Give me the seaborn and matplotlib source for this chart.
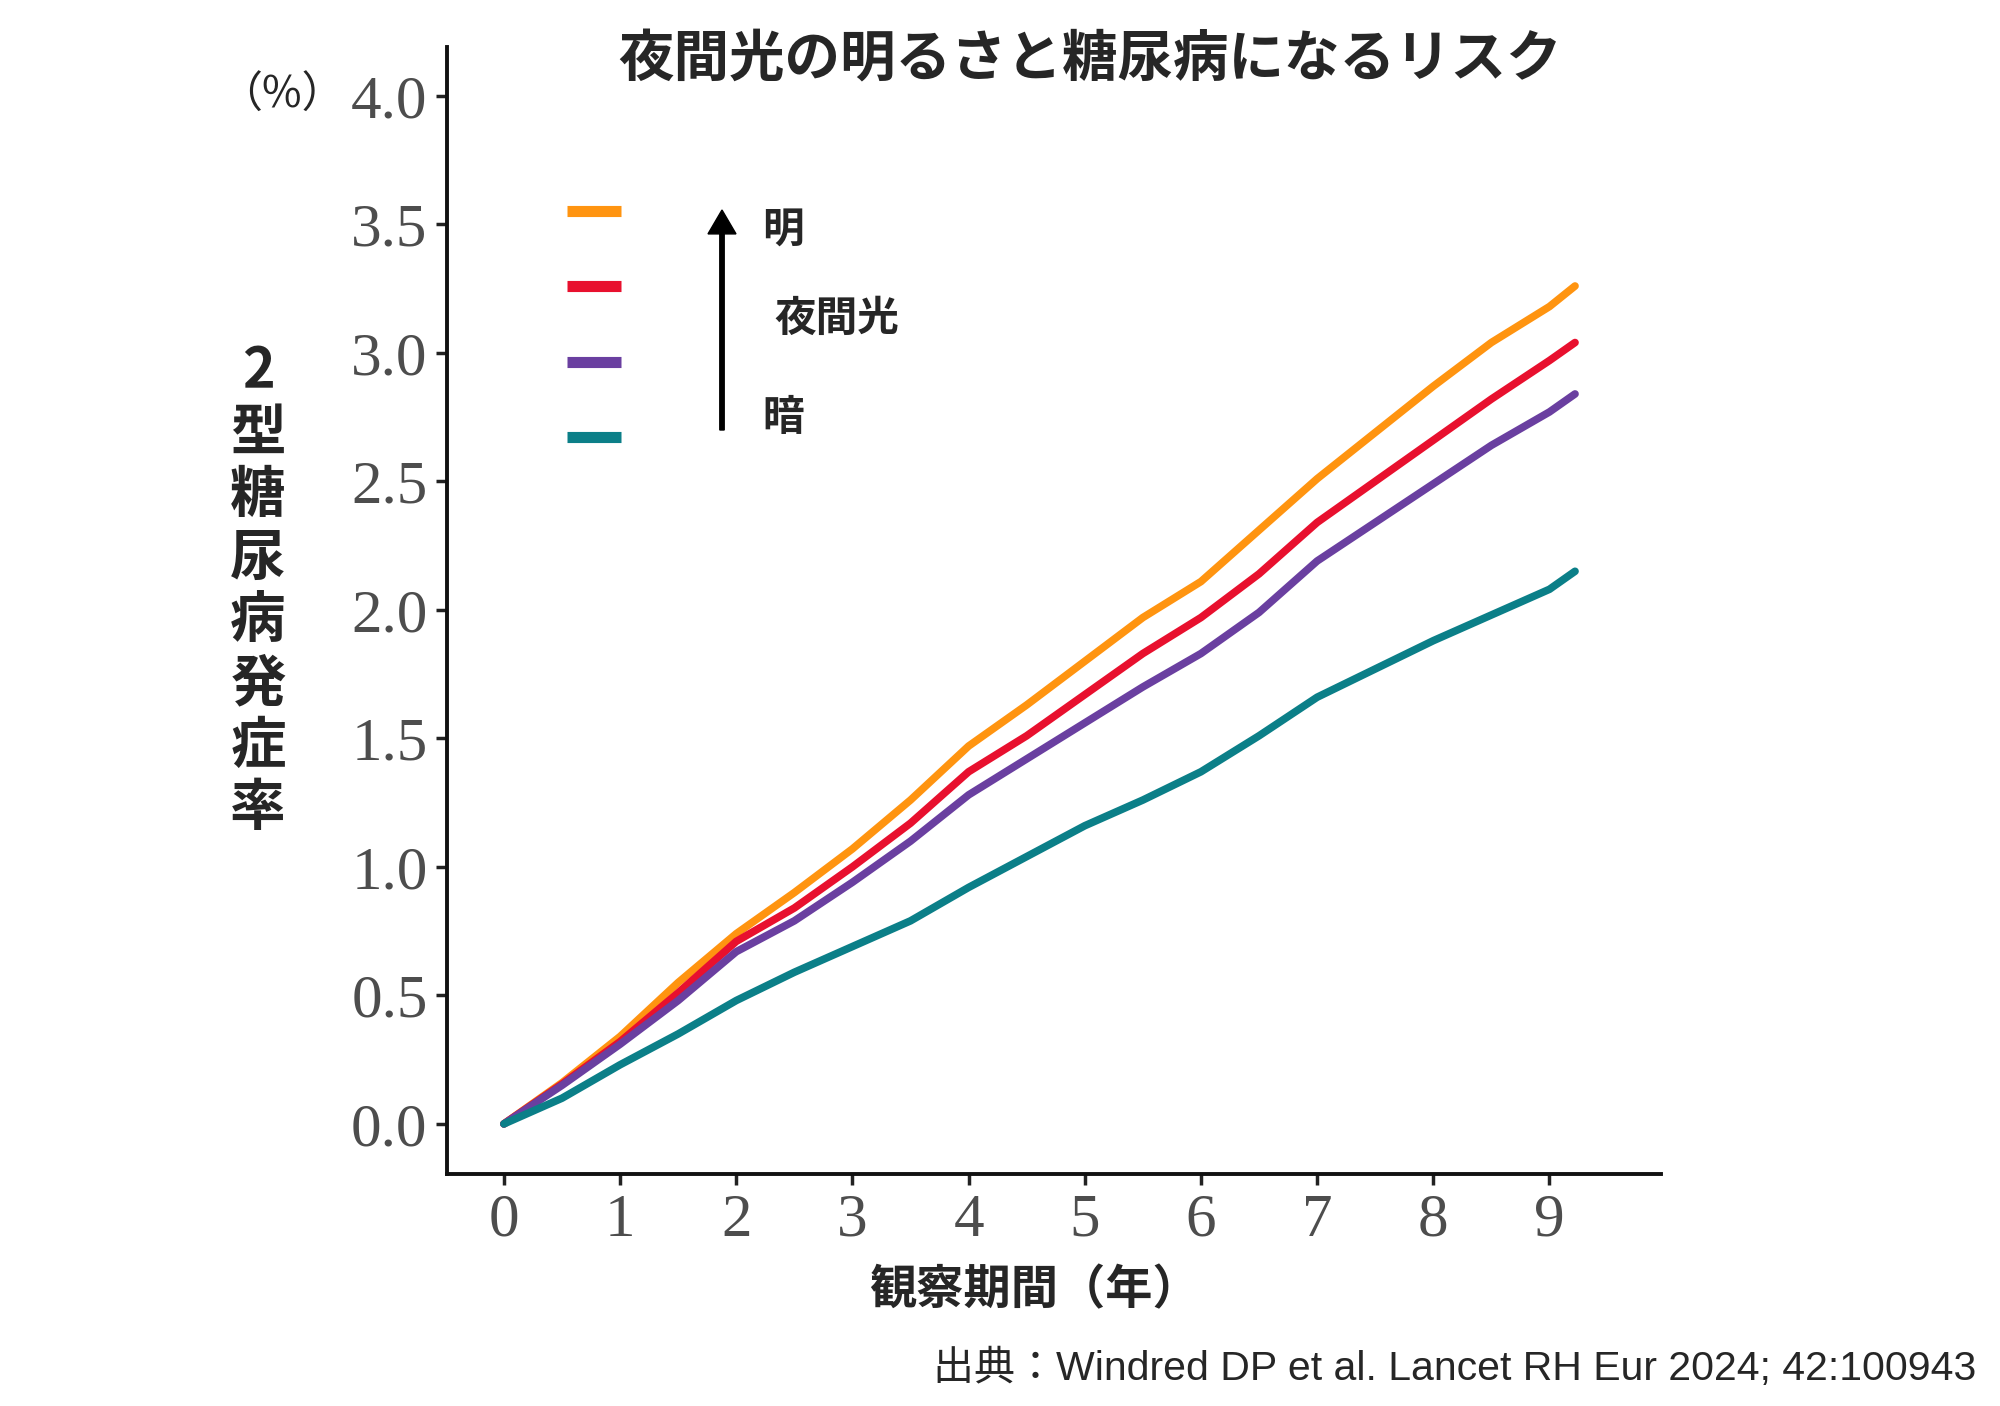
import pandas as pd
import matplotlib.pyplot as plt
import seaborn as sns

# ---- data ----
years = [0, 0.5, 1, 1.5, 2, 2.5, 3, 3.5, 4, 4.5, 5, 5.5, 6, 6.5, 7, 7.5, 8, 8.5, 9, 9.22]
bright = [0, 0.16, 0.34, 0.55, 0.74, 0.90, 1.07, 1.26, 1.47, 1.63, 1.80, 1.97, 2.11, 2.31, 2.51, 2.69, 2.87, 3.04, 3.18, 3.26]
mid_high = [0, 0.155, 0.32, 0.51, 0.71, 0.84, 1.00, 1.17, 1.37, 1.51, 1.67, 1.83, 1.97, 2.14, 2.34, 2.50, 2.66, 2.82, 2.97, 3.04]
mid_low = [0, 0.15, 0.31, 0.48, 0.67, 0.79, 0.94, 1.10, 1.28, 1.42, 1.56, 1.70, 1.83, 1.99, 2.19, 2.34, 2.49, 2.64, 2.77, 2.84]
dark = [0, 0.10, 0.23, 0.35, 0.48, 0.59, 0.69, 0.79, 0.92, 1.04, 1.16, 1.26, 1.37, 1.51, 1.66, 1.77, 1.88, 1.98, 2.08, 2.15]
groups = ["明", "中高", "中低", "暗"]
colors = ["#FF9410", "#E8102E", "#6A3FA0", "#0B7F88"]
x_ticks = list(range(10))
y_ticks = [0.0, 0.5, 1.0, 1.5, 2.0, 2.5, 3.0, 3.5, 4.0]

df = pd.DataFrame({
    "year": years * 4,
    "rate": bright + mid_high + mid_low + dark,
    "group": sum([[g] * len(years) for g in groups], []),
})

sns.set_style("ticks")
plt.rcParams["font.family"] = ["Noto Sans CJK JP", "DejaVu Sans"]

fig = plt.figure(figsize=(20, 14.06), dpi=100)
ax = fig.add_axes([0.2235, 0.165, 0.607, 0.8016])

sns.lineplot(data=df, x="year", y="rate", hue="group", hue_order=groups,
             palette=colors, linewidth=5.5, ax=ax, legend=False)

ax.set_xlim(-0.49, 9.96)
ax.set_ylim(-0.195, 4.19)
ax.set_xticks(x_ticks)
ax.set_yticks(y_ticks)
ax.set_xticklabels([str(t) for t in x_ticks], family="Liberation Serif", fontsize=44, color="#4d4d4d")
ax.set_yticklabels([f"{t:.1f}" for t in y_ticks], family="Liberation Serif", fontsize=44, color="#4d4d4d")
ax.tick_params(axis="both", length=8, width=2.5, color="#222222", pad=6)
for side in ["left", "bottom"]:
    ax.spines[side].set_linewidth(2.8)
    ax.spines[side].set_color("#111111")
sns.despine(ax=ax)
ax.set_xlabel("")
ax.set_ylabel("")

# legend (colour swatches only)
handles = [plt.Line2D([], [], color=c, linewidth=8, solid_capstyle="butt") for c in colors]
fig.legend(handles, [" "] * 4, loc="upper left", bbox_to_anchor=(0.273, 0.877),
           frameon=False, handlelength=1.3, fontsize=30, labelspacing=0.82,
           borderpad=0, handletextpad=0)

# arrow and labels beside the legend
fig.patches.append(plt.matplotlib.patches.FancyArrow(
    0.361, 1 - 430 / 1406, 0, (430 - 210) / 1406, width=0.0022, head_width=0.014,
    head_length=0.017, length_includes_head=True, color="black", transform=fig.transFigure))
fig.text(0.381, 1 - 230 / 1406, "明", fontsize=30, fontweight="bold", va="center")
fig.text(0.387, 1 - 319 / 1406, "夜間光", fontsize=30, fontweight="bold", va="center")
fig.text(0.381, 1 - 418 / 1406, "暗", fontsize=30, fontweight="bold", va="center")

# titles
fig.text(0.545, 1 - 61 / 1406, "夜間光の明るさと糖尿病になるリスク", fontsize=40,
         fontweight="bold", ha="center", va="center")
fig.text(0.129, 1 - 590 / 1406, "2\n型\n糖\n尿\n病\n発\n症\n率", fontsize=40,
         fontweight="bold", ha="center", va="center", linespacing=1.15)
fig.text(0.1725, 1 - 96 / 1406, "（%）", fontsize=31, ha="right", va="center")
fig.text(0.517, 1 - 1290 / 1406, "観察期間（年）", fontsize=34, fontweight="bold",
         ha="center", va="center")
fig.text(0.988, 1 - 1368 / 1406, "出典：Windred DP et al. Lancet RH Eur 2024; 42:100943",
         family=["Liberation Sans", "Noto Sans CJK JP"], fontsize=29.5, ha="right", va="center")

fig.savefig("out.png", dpi=100)
